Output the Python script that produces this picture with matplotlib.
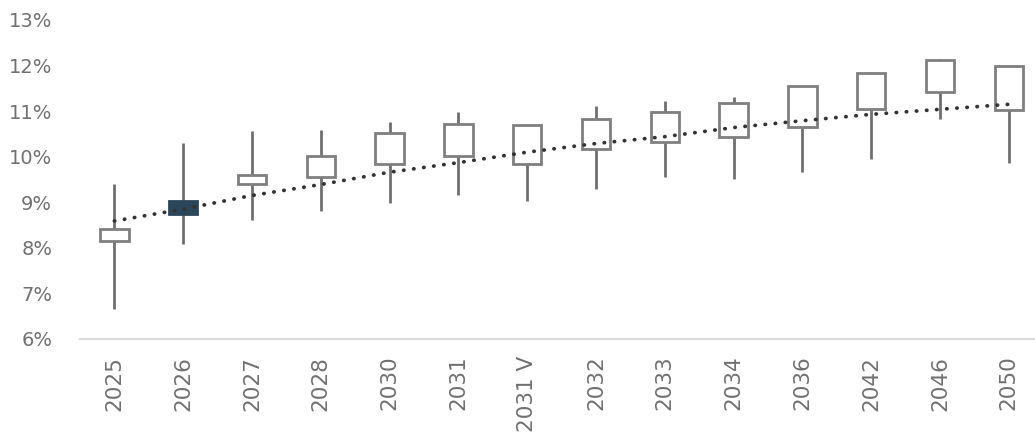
import numpy as np
import matplotlib
matplotlib.use("Agg")
import matplotlib.pyplot as plt
from matplotlib.ticker import FuncFormatter

# values, in %
years = ["2025", "2026", "2027", "2028", "2030", "2031", "2031 V",
         "2032", "2033", "2034", "2036", "2042", "2046", "2050"]
whisker_low = [6.66, 8.08, 8.61, 8.81, 8.99, 9.15, 9.02,
               9.30, 9.55, 9.52, 9.67, 9.96, 10.82, 9.87]
whisker_high = [9.41, 10.30, 10.57, 10.58, 10.77, 10.99, 10.69,
                11.11, 11.23, 11.31, 11.55, 11.86, 12.15, 11.99]
box_low = [8.14, 8.75, 9.41, 9.56, 9.83, 10.01, 9.83,
           10.18, 10.33, 10.44, 10.65, 11.04, 11.41, 11.02]
box_high = [8.42, 9.03, 9.59, 10.01, 10.52, 10.72, 10.69,
            10.82, 10.98, 11.17, 11.55, 11.83, 12.13, 11.99]
trend = [8.59, 8.85, 9.15, 9.39, 9.66, 9.87, 10.10,
         10.29, 10.44, 10.64, 10.79, 10.93, 11.04, 11.15]
highlight = "2026"

plt.rcParams['font.family'] = ['DejaVu Sans']

fig = plt.figure(figsize=(10.35, 4.33), dpi=100)
ax = fig.add_axes([80/1035, 94/433, 1 - 80/1035, (339 - 20)/433])

x = np.arange(len(years))
box_w = 0.41

# whiskers first, boxes over them
ax.vlines(x, whisker_low, whisker_high, color="#6f6f6f", lw=2, zorder=2)
for xi, yr, lo, hi in zip(x, years, box_low, box_high):
    if yr == highlight:
        fc, ec = "#2b4559", "#2b4559"
    else:
        fc, ec = "white", "#7f7f7f"
    ax.add_patch(plt.Rectangle((xi - box_w/2, lo), box_w, hi - lo,
                               facecolor=fc, edgecolor=ec, lw=2, zorder=3))

# trend line (dotted)
ax.plot(x, trend, color="#333333", lw=2.7, linestyle=(0, (0.1, 2.6)),
        dash_capstyle="round", zorder=4)

ax.set_ylim(6, 13)
ax.set_yticks(np.arange(6, 14, 1))
ax.yaxis.set_major_formatter(FuncFormatter(lambda v, p: f"{v:.0f}%"))
ax.set_xlim(-0.5, (1035 - 80)/68.8 - 0.5)
ax.set_xticks(x)
ax.set_xticklabels(years, rotation=90)

ax.tick_params(axis="y", length=0, labelsize=14, labelcolor="#707070", pad=20)
ax.tick_params(axis="x", length=0, labelsize=15.5, labelcolor="#707070", pad=12)

for s in ["top", "right", "left"]:
    ax.spines[s].set_visible(False)
ax.spines["bottom"].set_color("#d9d9d9")
ax.spines["bottom"].set_linewidth(1.5)

fig.savefig("out.png", dpi=100)
